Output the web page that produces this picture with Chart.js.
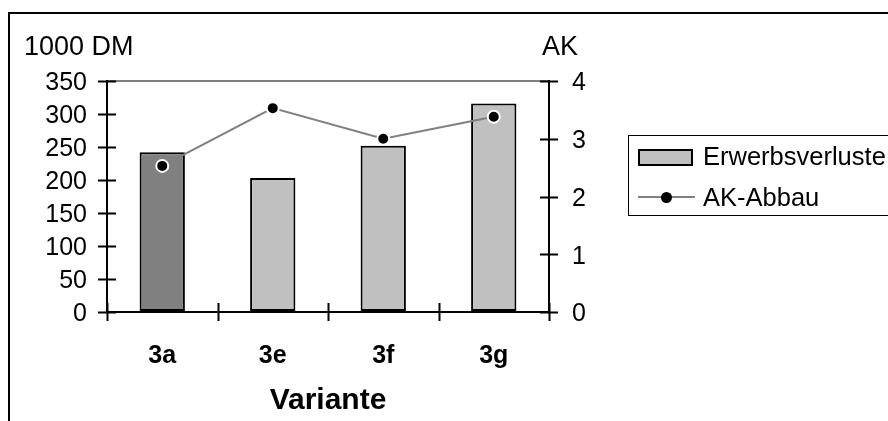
<!DOCTYPE html>
<html>
<head>
<meta charset="utf-8">
<script src="https://cdn.jsdelivr.net/npm/chart.js@4"></script>
<style>
  html, body { margin: 0; padding: 0; background: #fff; overflow: hidden; }
  .chart-wrap { position: relative; width: 888px; height: 421px; font-family: "Liberation Sans", Arial, sans-serif; }
  .frame { position: absolute; left: 8px; top: 12px; width: 1000px; height: 600px; border: 2px solid #000; box-sizing: border-box; }
  #chart { position: absolute; left: 0; top: 0; }
  .chart-legend { position: absolute; left: 628px; top: 135px; width: 400px; height: 81px; border: 1.5px solid #000; box-sizing: border-box; margin: 0; padding: 0; list-style: none; }
  .chart-legend_item { position: absolute; left: 9px; height: 28px; font-size: 25.5px; line-height: 28px; color: #000; white-space: nowrap; }
  .chart-legend_item-rect { position: absolute; left: 0; top: 7px; width: 55px; height: 17px; box-sizing: border-box; border: 2px solid #000; background: #c0c0c0; }
  .chart-legend_item-line { position: absolute; left: 0; top: 13px; width: 57px; height: 2px; background: #808080; }
  .chart-legend_item-dot { position: absolute; left: 23px; top: 9px; width: 11px; height: 11px; border-radius: 50%; background: #000; }
  .chart-legend_item-title { position: absolute; left: 65px; top: 0; }
</style>
</head>
<body>
<div class="chart-wrap">
  <div class="frame"></div>
  <canvas id="chart" width="888" height="421"></canvas>
  <div id="chart-legend"></div>
</div>
<script>
const categories = ['3a', '3e', '3f', '3g'];
const erwerbsverluste = [242, 203, 252, 316];   // 1000 DM
const akAbbau = [2.53, 3.53, 3.0, 3.38];         // AK
const leftTicks = [0, 50, 100, 150, 200, 250, 300, 350];
const rightTicks = [0, 1, 2, 3, 4];

const FONT = '"Liberation Sans", Arial, sans-serif';
const barColors = ['#808080', '#c0c0c0', '#c0c0c0', '#c0c0c0'];

// tick marks that cross the axis line on both sides
const crossTicks = {
    id: 'crossTicks',
    afterDraw(chart) {
        const ctx = chart.ctx;
        const area = chart.chartArea;
        ctx.save();
        ctx.strokeStyle = '#000';
        ctx.lineWidth = 2;
        ctx.beginPath();
        ['y', 'y1'].forEach((id) => {
            const s = chart.scales[id];
            const ax = s.position === 'left' ? area.left : area.right;
            s.ticks.forEach((t) => {
                const py = Math.round(s.getPixelForValue(t.value)) + 0.5;
                ctx.moveTo(ax - 9, py);
                ctx.lineTo(ax + 9, py);
            });
        });
        const xs = chart.scales.x;
        const n = xs.ticks.length;
        for (let i = 0; i <= n; i++) {
            const px = Math.round(xs.left + i * xs.width / n) + 0.5;
            ctx.moveTo(px, area.bottom - 9);
            ctx.lineTo(px, area.bottom + 9);
        }
        ctx.stroke();

        // unit labels above both value axes
        ctx.fillStyle = '#000';
        ctx.font = '27px ' + FONT;
        ctx.textBaseline = 'alphabetic';
        ctx.textAlign = 'left';
        ctx.fillText('1000 DM', 24, 55);
        ctx.fillText('AK', area.right - 7, 55);
        ctx.restore();
    }
};

const ctx = document.getElementById('chart').getContext('2d');
const myChart = new Chart(ctx, {
    data: {
        labels: categories,
        datasets: [{
            type: 'line',
            label: 'AK-Abbau',
            data: akAbbau,
            yAxisID: 'y1',
            order: 0,
            borderColor: '#808080',
            borderWidth: 2,
            pointRadius: 6,
            pointBackgroundColor: '#000',
            pointBorderColor: '#fff',
            pointBorderWidth: 2,
            tension: 0
        }, {
            type: 'bar',
            label: 'Erwerbsverluste',
            data: erwerbsverluste,
            yAxisID: 'y',
            order: 1,
            backgroundColor: barColors,
            borderColor: '#000',
            borderWidth: 2,
            borderSkipped: false,
            barPercentage: 0.41,
            categoryPercentage: 1
        }]
    },
    options: {
        responsive: false,
        animation: false,
        devicePixelRatio: 1,
        layout: { padding: { top: 81, left: 0, right: 0, bottom: 0 } },
        plugins: {
            legend: { display: false },
            tooltip: { enabled: false }
        },
        scales: {
            x: {
                offset: true,
                grid: { display: false, drawTicks: false, offset: true },
                border: { display: true, color: '#000', width: 2 },
                ticks: { color: '#000', font: { family: FONT, size: 25, weight: 'bold' }, padding: 29, maxRotation: 0 },
                title: { display: true, text: 'Variante', color: '#000', font: { family: FONT, size: 30, weight: 'bold' }, padding: { top: 0, bottom: 2 } },
                afterFit: (s) => { s.height = 109; }
            },
            y: {
                position: 'left',
                min: 0,
                max: 350,
                afterBuildTicks: (s) => { s.ticks = leftTicks.map((v) => ({ value: v })); },
                grid: {
                    drawTicks: false,
                    lineWidth: 2,
                    color: (c) => (c.tick && c.tick.value === 350 ? '#808080' : 'rgba(0,0,0,0)')
                },
                border: { display: true, color: '#000', width: 2 },
                ticks: { color: '#000', font: { family: FONT, size: 25 }, padding: 20, labelOffset: 2.5 },
                afterFit: (s) => { s.width = 107; }
            },
            y1: {
                position: 'right',
                min: 0,
                max: 4,
                afterBuildTicks: (s) => { s.ticks = rightTicks.map((v) => ({ value: v })); },
                grid: { display: false, drawTicks: false },
                border: { display: true, color: '#000', width: 2 },
                ticks: { color: '#000', font: { family: FONT, size: 25 }, padding: 23, labelOffset: 2.5 },
                afterFit: (s) => { s.width = 888 - 549; }
            }
        }
    },
    plugins: [crossTicks]
});

// legend built from the chart's datasets
function buildLegend(chart) {
    let itemsHtml = '';
    chart.data.datasets.slice().reverse().forEach((ds, i) => {
        const swatch = ds.type === 'bar'
            ? '<span class="chart-legend_item-rect"></span>'
            : '<span class="chart-legend_item-line"></span><span class="chart-legend_item-dot"></span>';
        itemsHtml += `
            <li class="chart-legend_item" style="top:${i === 0 ? 6 : 47}px">
                ${swatch}
                <span class="chart-legend_item-title">${ds.label}</span>
            </li>`;
    });
    return `<ul class="chart-legend">${itemsHtml}</ul>`;
}
document.getElementById('chart-legend').innerHTML = buildLegend(myChart);
</script>
</body>
</html>
